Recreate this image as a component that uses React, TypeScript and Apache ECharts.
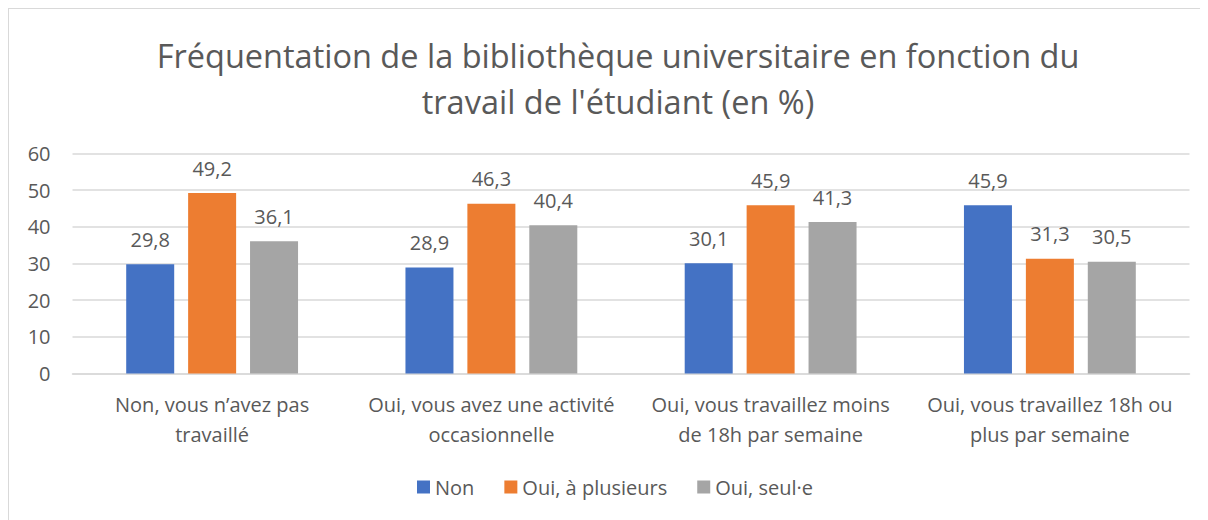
import React, { useEffect, useRef } from "react";
import * as echarts from "echarts";

const categories = [
  "Non, vous n’avez pas\ntravaillé",
  "Oui, vous avez une activité\noccasionnelle",
  "Oui, vous travaillez moins\nde 18h par semaine",
  "Oui, vous travaillez 18h ou\nplus par semaine",
];
const seriesNames = ["Non", "Oui, à plusieurs", "Oui, seul·e"];
const nonValues = [29.8, 28.9, 30.1, 45.9];
const plusieursValues = [49.2, 46.3, 45.9, 31.3];
const seulValues = [36.1, 40.4, 41.3, 30.5];
const colors = ["#4472C4", "#ED7D31", "#A5A5A5"];
const titleText = "Fréquentation de la bibliothèque universitaire en fonction du\ntravail de l'étudiant (en %)";

const FONT = "'Open Sans', 'Noto Sans', sans-serif";
const TEXT = "#595959";
const SMALL = 20;

export default function App() {
  const ref = useRef<HTMLDivElement>(null);
  useEffect(() => {
    document.body.style.overflow = "hidden";
    if (!ref.current) return;
    const chart = echarts.init(ref.current, null, { renderer: "svg" });
    const values = [nonValues, plusieursValues, seulValues];
    chart.setOption({
      animation: false,
      textStyle: { fontFamily: FONT, color: TEXT },
      title: {
        text: titleText,
        left: 604,
        textAlign: "center",
        top: 18,
        textStyle: {
          fontFamily: FONT,
          fontSize: 32.5,
          fontWeight: "normal",
          color: TEXT,
          lineHeight: 46,
        },
      },
      legend: {
        top: 463,
        left: 403,
        itemWidth: 13,
        itemHeight: 13,
        itemGap: 30,
        icon: "rect",
        textStyle: { fontFamily: FONT, fontSize: SMALL, color: TEXT },
        data: seriesNames,
      },
      grid: { left: 63.5, top: 144.5, width: 1117, height: 220 },
      xAxis: {
        type: "category",
        data: categories,
        axisLine: { lineStyle: { color: "#d9d9d9", width: 1.5 } },
        axisTick: { show: false },
        axisLabel: {
          fontFamily: FONT,
          fontSize: SMALL,
          color: TEXT,
          lineHeight: 30,
          margin: 16,
          interval: 0,
        },
      },
      yAxis: {
        type: "value",
        min: 0,
        max: 60,
        interval: 10,
        axisLine: { show: false },
        axisTick: { show: false },
        splitLine: { lineStyle: { color: "#d9d9d9", width: 1.5 } },
        axisLabel: { fontFamily: FONT, fontSize: SMALL, color: TEXT, margin: 22 },
      },
      series: seriesNames.map((name, i) => ({
        name,
        type: "bar",
        data: values[i],
        barWidth: 48,
        barGap: "29%",
        itemStyle: { color: colors[i] },
        label: {
          show: true,
          position: "top",
          distance: 15,
          fontFamily: FONT,
          fontSize: SMALL,
          color: TEXT,
          formatter: (p: any) => String(p.value).replace(".", ","),
        },
      })),
    });
    return () => chart.dispose();
  }, []);
  return (
    <div
      style={{
        width: 1230,
        height: 540,
        borderTop: "1.5px solid #d9d9d9",
        borderLeft: "1.5px solid #d9d9d9",
        boxSizing: "border-box",
        background: "#fff",
        overflow: "hidden",
      }}
    >
      <div ref={ref} style={{ width: 1228, height: 510 }} />
    </div>
  );
}
